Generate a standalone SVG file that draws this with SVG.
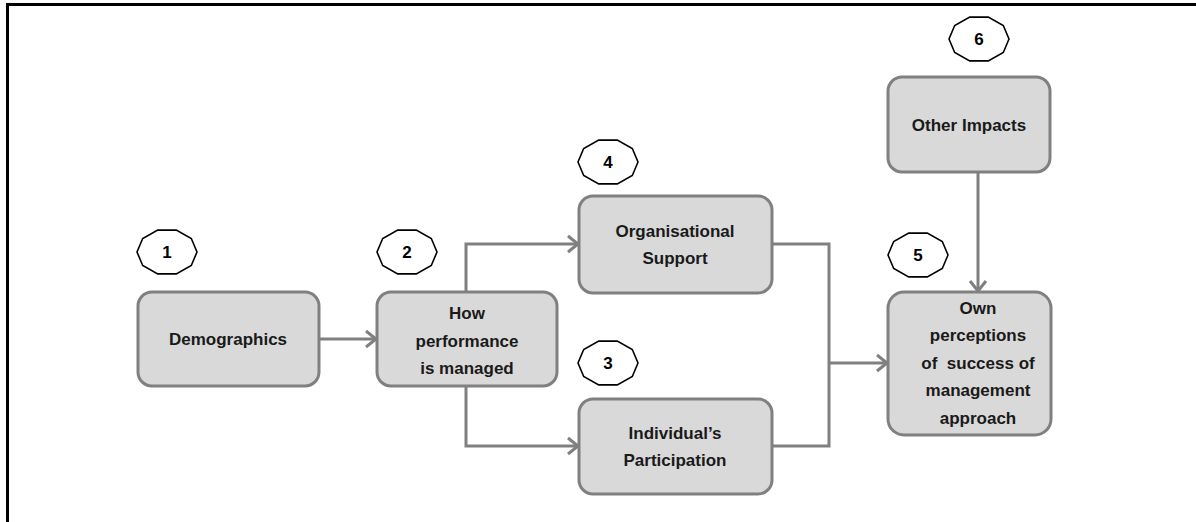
<svg xmlns="http://www.w3.org/2000/svg" width="1196" height="522" viewBox="0 0 1196 522">
<style>
.box{fill:#d9d9d9;stroke:#808080;stroke-width:3}
.lbl{font-family:"Liberation Sans",Arial,sans-serif;font-weight:bold;font-size:17px;fill:#1a1a1a;text-anchor:middle}
.num{font-family:"Liberation Sans",Arial,sans-serif;font-weight:bold;font-size:17px;fill:#000;text-anchor:middle}
.oct{fill:#fff;stroke:#000;stroke-width:1.6}
.con{fill:none;stroke:#808080;stroke-width:3}
</style>
<defs>
<polygon id="dec" class="oct" points="30,0 24.3,13.5 9.3,21.9 -9.3,21.9 -24.3,13.5 -30,0 -24.3,-13.5 -9.3,-21.9 9.3,-21.9 24.3,-13.5"/>
<marker id="arr" markerWidth="14" markerHeight="20" refX="11" refY="10" orient="auto" markerUnits="userSpaceOnUse">
<path d="M1,2 L11,10 L1,18" fill="none" stroke="#808080" stroke-width="3"/>
</marker>
</defs>
<rect width="1196" height="522" fill="#fff"/>
<path d="M7.5,522 V4.5 H1196" fill="none" stroke="#000" stroke-width="3"/>
<g id="connectors">
<path class="con" d="M319,339 H376" marker-end="url(#arr)"/>
<path class="con" d="M466,292 V244 H578" marker-end="url(#arr)"/>
<path class="con" d="M466,386 V446 H578" marker-end="url(#arr)"/>
<path class="con" d="M772,244 H829 V446 H772"/>
<path class="con" d="M829,363 H887" marker-end="url(#arr)"/>
<path class="con" d="M978,172 V291" marker-end="url(#arr)"/>
</g>
<g id="n1">
<rect class="box" x="138" y="292" width="181" height="94" rx="14"/>
<text class="lbl" x="228" y="345">Demographics</text>
</g>
<g id="n2">
<rect class="box" x="377" y="292" width="180" height="94" rx="14"/>
<text class="lbl" x="467" y="319">How</text>
<text class="lbl" x="467" y="347">performance</text>
<text class="lbl" x="467" y="374">is managed</text>
</g>
<g id="n4">
<rect class="box" x="579" y="196" width="193" height="97" rx="14"/>
<text class="lbl" x="675" y="237">Organisational</text>
<text class="lbl" x="675" y="264">Support</text>
</g>
<g id="n3">
<rect class="box" x="579" y="399" width="193" height="95" rx="14"/>
<text class="lbl" x="675" y="439">Individual’s</text>
<text class="lbl" x="675" y="466">Participation</text>
</g>
<g id="n5">
<rect class="box" x="888" y="292" width="163" height="143" rx="16"/>
<text class="lbl" x="978" y="314">Own</text>
<text class="lbl" x="978" y="341">perceptions</text>
<text class="lbl" x="978" y="369" style="white-space:pre">of  success of</text>
<text class="lbl" x="978" y="396">management</text>
<text class="lbl" x="978" y="424">approach</text>
</g>
<g id="n6">
<rect class="box" x="888" y="77" width="162" height="95" rx="14"/>
<text class="lbl" x="969" y="131">Other Impacts</text>
</g>
<g id="m1"><use href="#dec" x="167" y="252"/><text class="num" x="167" y="258">1</text></g>
<g id="m2"><use href="#dec" x="407" y="252"/><text class="num" x="407" y="258">2</text></g>
<g id="m4"><use href="#dec" x="608" y="162"/><text class="num" x="608" y="168">4</text></g>
<g id="m3"><use href="#dec" x="608" y="363"/><text class="num" x="608" y="369">3</text></g>
<g id="m5"><use href="#dec" x="918" y="255"/><text class="num" x="918" y="261">5</text></g>
<g id="m6"><use href="#dec" x="979" y="39"/><text class="num" x="979" y="45">6</text></g>
</svg>
